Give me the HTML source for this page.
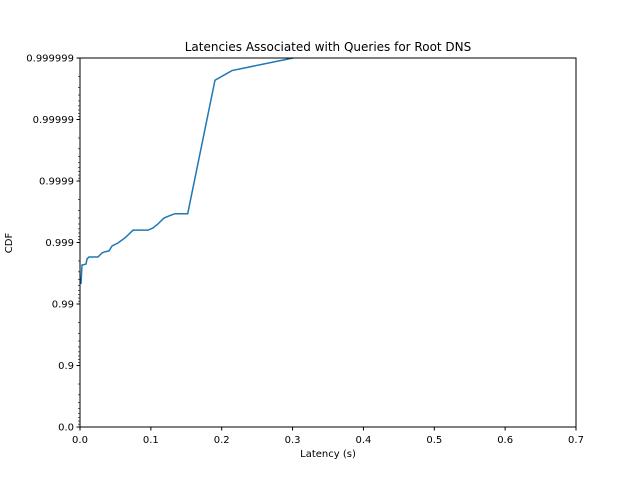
<!DOCTYPE html>
<html><head><meta charset="utf-8"><style>
body{margin:0;background:#fff;}
svg{display:block;font-family:"DejaVu Sans","Liberation Sans",sans-serif;}
</style></head><body>
<svg id="chart" width="640" height="480">
<rect width="640" height="480" fill="#fff"/>
<text x="328" y="51" font-size="12" text-anchor="middle">Latencies Associated with Queries for Root DNS</text>
<text x="328" y="457" font-size="10" text-anchor="middle">Latency (s)</text>
<text x="12" y="243" font-size="10" text-anchor="middle" transform="rotate(-90 12 243)">CDF</text>
<g id="ticks"></g>
<path id="line" fill="none" stroke="#1f77b4" stroke-width="1.5"/>
<rect x="80" y="58" width="496" height="369" fill="none" stroke="#000" stroke-width="1"/>
</svg>
<script>
const xTicks=[0,0.1,0.2,0.3,0.4,0.5,0.6,0.7];
const xTickLabels=["0.0","0.1","0.2","0.3","0.4","0.5","0.6","0.7"];
const yTicks=[0,0.9,0.99,0.999,0.9999,0.99999,0.999999];
const yTickLabels=["0.0","0.9","0.99","0.999","0.9999","0.99999","0.999999"];
const latency=[0.0014,0.0028,0.005,0.0085,0.0099,0.0127,0.0254,0.031,0.0339,0.0409,0.0452,0.0536,0.0593,0.0635,0.0692,0.0748,0.096,0.103,0.110,0.1185,0.1256,0.134,0.152,0.1905,0.2145,0.3006];
const cdf=[0.99527,0.99768,0.99770,0.99776,0.99815,0.99828,0.99828,0.99852,0.99857,0.99863,0.99886,0.99898,0.99909,0.99916,0.99927,0.99937,0.99937,0.99942,0.99950,0.99960,0.99963,0.99966,0.99966,0.9999977,0.9999984,0.999999];
const X0=80,X1=576,Y0=427,Y1=58;
function xs(v){return X0+(v-0)/(0.7)*(X1-X0);}
function ys(p){const d=-Math.log10(Math.max(1-p,1e-12));return Y0-d/6*(Y0-Y1);}
const NS="http://www.w3.org/2000/svg";
const g=document.getElementById('ticks');
function mk(t,a){const e=document.createElementNS(NS,t);for(const k in a)e.setAttribute(k,a[k]);return e;}
xTicks.forEach((v,i)=>{const x=xs(v);
const l=mk('line',{x1:x,x2:x,y1:Y0,y2:Y0+3.5,stroke:'#000'});


g.appendChild(l);
const t=mk('text',{x:x,y:Y0+16,'font-size':10,'text-anchor':'middle'});t.textContent=xTickLabels[i];


g.appendChild(t);});
yTicks.forEach((v,i)=>{const y=ys(v);
const l=mk('line',{x1:X0-3.5,x2:X0,y1:y,y2:y,stroke:'#000'});


g.appendChild(l);
const t=mk('text',{x:X0-6,y:y+3.5,'font-size':10,'text-anchor':'end'});t.textContent=yTickLabels[i];


g.appendChild(t);});
for(let k=1;k<=6;k++){for(let m=2;m<=9;m++){const q=m*Math.pow(10,-k);const y=ys(1-q);
const l=mk('line',{x1:X0-2,x2:X0,y1:y,y2:y,stroke:'#000','stroke-width':0.6});


g.appendChild(l);}}
document.getElementById('line').setAttribute('d',latency.map((v,i)=>(i?'L':'M')+xs(v).toFixed(2)+','+ys(cdf[i]).toFixed(2)).join(''));
</script>
</body></html>
